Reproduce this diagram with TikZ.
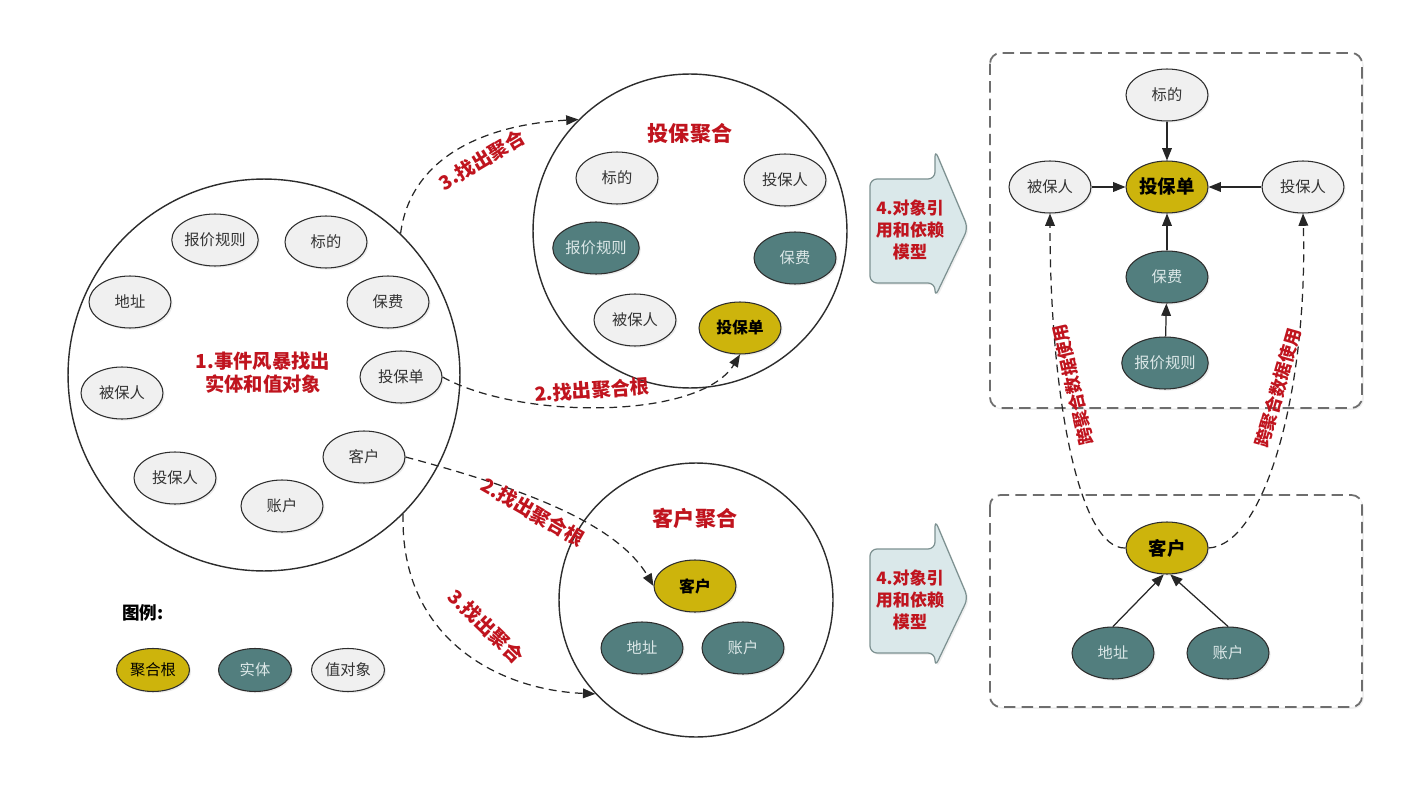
\documentclass[tikz,border=0pt]{standalone}
\usepackage{fontspec}
\setmainfont{Noto Sans CJK SC}
\usetikzlibrary{shapes.geometric,arrows.meta,shadows}
\definecolor{rootfill}{RGB}{205,180,12}
\definecolor{entfill}{RGB}{82,126,126}
\definecolor{enttext}{RGB}{220,232,232}
\definecolor{valfill}{RGB}{240,240,240}
\definecolor{linec}{RGB}{45,45,45}
\definecolor{redc}{RGB}{192,20,30}
\definecolor{arrfill}{RGB}{218,232,234}
\definecolor{arrline}{RGB}{125,145,145}
\definecolor{boxline}{RGB}{110,110,110}
\begin{document}
\begin{tikzpicture}[x=0.02cm,y=-0.02cm,
  shd/.style={drop shadow={opacity=0.15,shadow xshift=0.9pt,shadow yshift=-0.9pt}},
  val/.style={ellipse,draw=linec,fill=valfill,line width=0.6pt,minimum width=1.64cm,minimum height=1.04cm,inner sep=0pt,font=\fontsize{8.7}{10}\selectfont,text=black!80,shd},
  ent/.style={val,fill=entfill,text=enttext},
  root/.style={val,fill=rootfill,text=black,font=\bfseries\fontsize{9}{10}\selectfont},
  bigroot/.style={root,font=\bfseries\fontsize{10.5}{12}\selectfont},
  lgd/.style={val,minimum width=1.46cm,minimum height=0.86cm},
  agg/.style={circle,draw=linec,line width=0.8pt,inner sep=0pt},
  redlbl/.style={text=redc,font=\bfseries\fontsize{11}{13}\selectfont,inner sep=1pt},
  smallred/.style={text=redc,font=\bfseries\fontsize{9.7}{12.5}\selectfont,inner sep=1pt,align=center},
  dasharrow/.style={dash pattern=on 4.5pt off 3pt,line width=0.7pt,draw=black!85,-{Triangle[length=7pt,width=5.5pt]}},
  solidarrow/.style={line width=0.7pt,draw=black!85,-{Triangle[length=7pt,width=5.5pt]}},
  dbox/.style={draw=boxline,line width=1pt,dash pattern=on 6.5pt off 3.5pt,rounded corners=6pt,fill=white,drop shadow={opacity=0.12,shadow xshift=1pt,shadow yshift=-1pt}},
  bigarrow/.style={draw=arrline,fill=arrfill,line width=0.7pt,rounded corners=4pt,drop shadow={opacity=0.12,shadow xshift=1pt,shadow yshift=-1pt}}
]
\useasboundingbox[fill=white] (0,0) rectangle (1414,794);

% ---------- left circle ----------
\node[agg,minimum size=7.84cm] (L) at (264,375) {};
\node[val] (lbj) at (215,240) {报价规则};
\node[val] (lbd0) at (326,242) {标的};
\node[val] (ldz) at (130,302) {地址};
\node[val] (lbf) at (388,302) {保费};
\node[val] (lbb) at (122,393) {被保人};
\node[val] (lbd) at (401,377) {投保单};
\node[val] (lkh) at (364,457) {客户};
\node[val] (ltb) at (175,478) {投保人};
\node[val] (lzh) at (282,506) {账户};
\node[redlbl,align=center] (lt) at (263,373) {1.事件风暴找出\\实体和值对象};

% ---------- top aggregate ----------
\node[agg,minimum size=6.28cm] (T) at (690,231) {};
\node[redlbl,font=\bfseries\fontsize{12}{14}\selectfont] (tt) at (690,133) {投保聚合};
\node[val] (tbd0) at (617,178) {标的};
\node[val] (ttb) at (785,180) {投保人};
\node[ent] (tbj) at (596,248) {报价规则};
\node[ent] (tbf) at (795,258) {保费};
\node[val] (tbb) at (635,320) {被保人};
\node[root] (tbd) at (740,328) {投保单};

% ---------- bottom aggregate ----------
\node[agg,minimum size=5.48cm] (B) at (696,600) {};
\node[redlbl,font=\bfseries\fontsize{12}{14}\selectfont] (bt) at (695,518) {客户聚合};
\node[root] (bkh) at (695,586) {客户};
\node[ent] (bdz) at (642,648) {地址};
\node[ent] (bzh) at (743,648) {账户};

% ---------- connectors left -> middle ----------
\draw[dasharrow] (L.46) .. controls (410,160) and (480,125) .. (T.135);
\node[redlbl,rotate=31] (l3a) at (482,160) {3.找出聚合};
\draw[dasharrow] (lbd.east) .. controls (520,420) and (700,420) .. (tbd.south);
\node[redlbl,rotate=4] (l2a) at (592,390) {2.找出聚合根};
\draw[dasharrow] (lkh.east) .. controls (510,485) and (615,520) .. (bkh.west);
\node[redlbl,rotate=-30] (l2b) at (533,512) {2.找出聚合根};
\draw[dasharrow] (L.-45) .. controls (400,640) and (500,690) .. (B.-137);
\node[redlbl,rotate=-44] (l3b) at (486,626) {3.找出聚合};

% ---------- big arrows ----------
\path[bigarrow] (870,179) -- (935,179) -- (935,150) -- (968,228) -- (935,297) -- (935,283) -- (870,283) -- cycle;
\node[smallred] (a1) at (910,230) {4.对象引\\用和依赖\\模型};
\path[bigarrow] (870,549) -- (935,549) -- (935,520) -- (968,598) -- (935,667) -- (935,653) -- (870,653) -- cycle;
\node[smallred] (a2) at (910,600) {4.对象引\\用和依赖\\模型};

% ---------- right boxes ----------
\path[dbox] (990,53) rectangle (1362,408);
\path[dbox] (990,495) rectangle (1362,707);

\node[val] (rbd0) at (1167,95) {标的};
\node[bigroot] (rbd) at (1167,187) {投保单};
\node[val] (rbb) at (1050,187) {被保人};
\node[val] (rtb) at (1303,187) {投保人};
\node[ent] (rbf) at (1167,277) {保费};
\node[ent] (rbj) at (1165,363) {报价规则};
\draw[solidarrow] (rbd0) -- (rbd);
\draw[solidarrow] (rbb) -- (rbd);
\draw[solidarrow] (rtb) -- (rbd);
\draw[solidarrow] (rbf) -- (rbd);
\draw[solidarrow] (rbj) -- (rbf);

\node[bigroot] (rkh) at (1167,548) {客户};
\node[ent] (rdz) at (1113,653) {地址};
\node[ent] (rzh) at (1228,653) {账户};
\draw[solidarrow] (rdz.north) -- (rkh.-97);
\draw[solidarrow] (rzh.north) -- (rkh.-83);

\draw[dasharrow] (rkh.west) .. controls (1080,550) and (1050,400) .. (rbb.south);
\draw[dasharrow] (rkh.east) .. controls (1265,545) and (1308,390) .. (rtb.south);
\node[smallred,font=\bfseries\fontsize{10}{12}\selectfont,rotate=103] (x1) at (1073,385) {跨聚合数据使用};
\node[smallred,font=\bfseries\fontsize{10}{12}\selectfont,rotate=74] (x2) at (1278,388) {跨聚合数据使用};

% ---------- legend ----------
\node[font=\bfseries\fontsize{10}{12}\selectfont] (lg) at (143,613) {图例:};
\node[lgd,fill=rootfill,text=black] (lg1) at (153,670) {聚合根};
\node[lgd,fill=entfill,text=enttext] (lg2) at (255,670) {实体};
\node[lgd] (lg3) at (348,670) {值对象};
\end{tikzpicture}
\end{document}
